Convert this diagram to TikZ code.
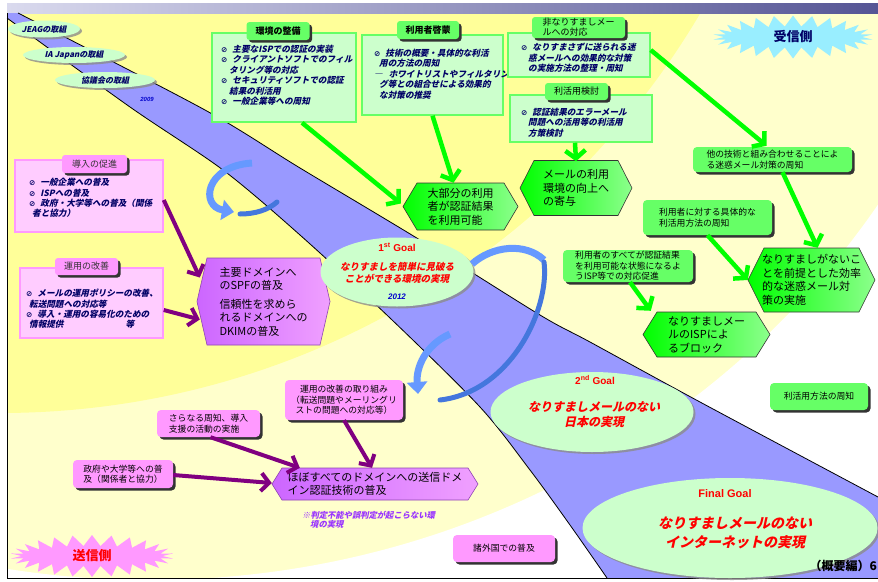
\documentclass[tikz,border=0pt]{standalone}
\usepackage{fontspec}
\newfontfamily\jp{Noto Sans CJK JP}
\newfontfamily\jpi{Noto Sans CJK JP}[FakeSlant=0.22]
\newfontfamily\dv{DejaVu Sans}
\newfontfamily\lib{Liberation Sans}
\usetikzlibrary{shapes.symbols,shapes.geometric,shadows,arrows.meta,calc}
\definecolor{navy}{HTML}{000066}
\definecolor{lgreen}{HTML}{CCFFCC}
\definecolor{mgreen}{HTML}{66FF66}
\definecolor{bgreen}{HTML}{00FF00}
\definecolor{lpink}{HTML}{FFCCFF}
\definecolor{mpink}{HTML}{FF99FF}
\definecolor{purp}{HTML}{800080}
\definecolor{viol}{HTML}{CC66FF}
\definecolor{violl}{HTML}{F0A0FF}
\definecolor{bandc}{HTML}{9999FF}
\definecolor{yel}{HTML}{FFFF99}
\definecolor{pale}{HTML}{FFFFCC}
\definecolor{ablue}{HTML}{6699FF}
\definecolor{dblue}{HTML}{4477DD}
\definecolor{barL}{HTML}{DADAEE}
\definecolor{barR}{HTML}{555595}
\definecolor{cyanst}{HTML}{99EEFF}
\definecolor{notec}{HTML}{9933FF}
\newcommand\bulmark{{\dv\bfseries\fontsize{7.5}{8}\selectfont ⊘}\hspace{5pt}}
\newcommand\hexag[8]{%
  \path[#7] (#2-#4/2,#3) -- (#2-#4/2+#6,#3-#5/2) -- (#2+#4/2-#6,#3-#5/2) -- (#2+#4/2,#3) -- (#2+#4/2-#6,#3+#5/2) -- (#2-#4/2+#6,#3+#5/2) -- cycle;
  \node[minimum width=#4pt, minimum height=#5pt, inner sep=0pt, align=left, font=\jp\fontsize{11}{13.5}\selectfont] (#1) at (#2,#3) {#8};
}
\begin{document}
\begin{tikzpicture}[x=1pt,y=-1pt,
  shad/.style={drop shadow={shadow xshift=2.5pt,shadow yshift=-2.5pt,fill=black!80,opacity=1}},
  gbox/.style={draw=mgreen, line width=1.5pt, fill=lgreen, inner sep=0pt},
  pbox/.style={draw=mpink, line width=1.5pt, fill=lpink, inner sep=0pt},
  gtab/.style={fill=mgreen, rounded corners=3pt, shad, inner sep=0pt, font=\jp\bfseries\fontsize{9}{10}\selectfont},
  ptab/.style={fill=mpink, rounded corners=3pt, shad, inner sep=0pt, font=\jp\fontsize{9}{10}\selectfont, text=black!80},
  gsolid/.style={fill=mgreen, rounded corners=4pt, shad, inner sep=0pt, align=left, font=\jp\fontsize{8.8}{10.5}\selectfont},
  psolid/.style={fill=mpink, rounded corners=4pt, shad, inner sep=0pt, align=left, font=\jp\fontsize{8.8}{10.5}\selectfont},
  btext/.style={font=\jpi\bfseries\fontsize{8.6}{10.4}\selectfont, text=navy, align=left, anchor=north west, inner sep=0pt},
  gell/.style={ellipse, fill=lgreen, drop shadow={shadow xshift=2pt,shadow yshift=-2pt,fill=black!45,opacity=.8}, inner sep=0pt},
  hexg/.style={draw=black!80, line width=0.6pt, left color=bgreen, right color=bgreen!45!white},
  hexp/.style={draw=viol!70!black, line width=0.6pt, left color=viol, right color=violl},
  garrow/.style={draw=bgreen, line width=4.5pt, -{Straight Barb[length=8pt,width=20pt]}},
  parrow/.style={draw=purp, line width=4pt, -{Straight Barb[length=8pt,width=18pt]}},
  barrow/.style={draw=ablue, line width=7pt, -{Triangle[length=12pt,width=20pt]}},
  bcres/.style={draw=dblue, line width=5pt, line cap=round},
  redt/.style={text=red, font=\jpi\bfseries\fontsize{9.5}{11.5}\selectfont, align=center, inner sep=0pt}
]
\useasboundingbox (0,0) rectangle (878,581);
% ---------- background
\fill[white] (0,0) rectangle (878,581);
\begin{scope}
  \clip (7,13) rectangle (878,578);
  \fill[pale] (7,13) rectangle (878,578);
  \fill[yel] (0,-400) circle[radius=813pt];
  \fill[white, even odd rule] (0,0) rectangle (878,581) (150,-250) ellipse[x radius=870pt, y radius=830pt];
\end{scope}
\shade[left color=barL, right color=barR] (7,3) rectangle (878,13);
% ---------- band
\fill[bandc] (7,13) -- plot[smooth] coordinates {(18,13) (205,110) (300,168) (420,240) (540,315) (590,342) (700,402) (878,497)} -- (878,578) -- plot[smooth] coordinates {(607,578) (570,525) (530,470) (480,407) (390,318) (300,235) (223,170) (130,107) (7,18)} -- cycle;
\draw[line width=0.8pt] plot[smooth] coordinates {(18,13) (205,110) (300,168) (420,240) (540,315) (590,342) (700,402) (878,497)};
\draw[line width=0.8pt] plot[smooth] coordinates {(607,578) (570,525) (530,470) (480,407) (390,318) (300,235) (223,170) (130,107) (7,18)};
\draw[line width=1pt] (7,13) -- (7,578) -- (878,578);
% ---------- top-left ellipses
\node[gell, minimum width=72pt, minimum height=17pt] (jeag) at (44,29) {\jpi\bfseries\fontsize{8}{9}\selectfont\color{navy}JEAGの取組};
\node[gell, minimum width=102pt, minimum height=16pt] (iaj) at (74,55) {\jpi\bfseries\fontsize{8}{9}\selectfont\color{navy}IA Japanの取組};
\node[gell, minimum width=100pt, minimum height=16pt] (kyo) at (105,80) {\jpi\bfseries\fontsize{8}{9}\selectfont\color{navy}協議会の取組};
\node[inner sep=0pt, text=blue!80!black, font=\lib\bfseries\itshape\fontsize{6}{7}\selectfont] (y2009) at (147,99) {2009};
% ---------- green boxes with tabs
\node[gbox, minimum width=144pt, minimum height=89pt] (env) at (284,77.5) {};
\node[gtab, minimum width=63pt, minimum height=18pt] (envt) at (278,31) {環境の整備};
\node[btext] (envc) at (221,45) {\bulmark 主要なISPでの認証の実装\\
\bulmark クライアントソフトでのフィル\\
\hspace*{8pt}タリング等の対応\\
\bulmark セキュリティソフトでの認証\\
\hspace*{8pt}結果の利活用\\
\bulmark 一般企業等への周知};
\node[gbox, minimum width=141pt, minimum height=80pt] (usr) at (432.5,75) {};
\node[gtab, minimum width=62pt, minimum height=18pt] (usrt) at (428,30) {利用者啓蒙};
\node[btext] (usrc) at (374,49) {\bulmark 技術の概要・具体的な利活\\
\hspace*{5pt}用の方法の周知\\
―\hspace{6pt}ホワイトリストやフィルタリン\\
\hspace*{5pt}グ等との組合せによる効果的\\
\hspace*{5pt}な対策の推奨};
\node[gbox, minimum width=142pt, minimum height=44pt] (non) at (579,55) {};
\node[gtab, minimum width=93pt, minimum height=21pt, align=left, font=\jp\fontsize{9}{10}\selectfont] (nont) at (578.5,27.5) {非なりすましメー\\ルへの対応};
\node[btext] (nonc) at (521,43) {\bulmark なりすまさずに送られる迷\\
\hspace*{7pt}惑メールへの効果的な対策\\
\hspace*{7pt}の実施方法の整理・周知};
\node[gbox, minimum width=142pt, minimum height=47pt] (rik) at (581,118.5) {};
\node[gtab, minimum width=63pt, minimum height=17pt, font=\jp\fontsize{9}{10}\selectfont] (rikt) at (576.5,91.5) {利活用検討};
\node[btext] (rikc) at (521,108) {\bulmark 認証結果のエラーメール\\
\hspace*{7pt}問題への活用等の利活用\\
\hspace*{7pt}方策検討};
% ---------- pink boxes with tabs
\node[pbox, minimum width=148pt, minimum height=72pt] (intro) at (89,196) {};
\node[ptab, minimum width=65pt, minimum height=18pt] (introt) at (94.5,164) {導入の促進};
\node[btext] (introc) at (29,178) {\bulmark 一般企業への普及\\
\bulmark ISPへの普及\\
\bulmark 政府・大学等への普及（関係\\
\hspace*{3pt}者と協力）};
\node[pbox, minimum width=143pt, minimum height=70pt] (imp) at (91.5,303) {};
\node[ptab, minimum width=63pt, minimum height=17pt] (impt) at (86.5,266.5) {運用の改善};
\node[btext] (impc) at (26,289) {\bulmark メールの運用ポリシーの改善、\\
\hspace*{3pt}転送問題への対応等\\
\bulmark 導入・運用の容易化のための\\
\hspace*{3pt}情報提供\hspace*{62pt}等};
% ---------- starbursts
\node[starburst, starburst points=26, starburst point height=11pt, random starburst=0, fill=cyanst, minimum width=160pt, minimum height=43pt, inner sep=0pt, font=\jp\bfseries\fontsize{13}{14}\selectfont, text=navy] (recv) at (793,37) {受信側};
\node[starburst, starburst points=26, starburst point height=11pt, random starburst=0, fill=mpink, minimum width=163pt, minimum height=42pt, inner sep=0pt, font=\jp\bfseries\fontsize{13}{14}\selectfont, text=red] (send) at (92,556) {送信側};
% ---------- solid green boxes
\node[gsolid, minimum width=159pt, minimum height=25pt] (other) at (772.5,159.5) {他の技術と組み合わせることによ\\る迷惑メール対策の周知};
\node[gsolid, minimum width=129pt, minimum height=35pt] (fu) at (707.5,217.5) {利用者に対する具体的な\\利活用方法の周知};
\node[gsolid, minimum width=130pt, minimum height=32pt] (all) at (628,266) {利用者のすべてが認証結果\\を利用可能な状態になるよ\\うISP等での対応促進};
\node[gsolid, minimum width=98pt, minimum height=27pt] (rkh) at (819,396.5) {利活用方法の周知};
% ---------- solid pink boxes
\node[psolid, minimum width=118pt, minimum height=40pt, align=center] (tori) at (344,400) {運用の改善の取り組み\\（転送問題やメーリングリ\\ストの問題への対応等）};
\node[psolid, minimum width=103pt, minimum height=27pt] (sar) at (208.5,423.5) {さらなる周知、導入\\支援の活動の実施};
\node[psolid, minimum width=100pt, minimum height=28pt] (gov) at (123,474) {政府や大学等への普\\及（関係者と協力）};
\node[psolid, minimum width=102pt, minimum height=27pt] (abroad) at (504,548.5) {諸外国での普及};
% ---------- hexagons
\hexag{big}{460.5}{206.5}{115}{47}{14}{hexg}{大部分の利用\\者が認証結果\\を利用可能}
\hexag{mail}{576}{188}{112}{55}{14}{hexg}{メールの利用\\環境の向上へ\\の寄与}
\hexag{effic}{811.5}{280}{127}{64}{16}{hexg}{なりすましがないこ\\とを前提とした効率\\的な迷惑メール対\\策の実施}
\hexag{isp}{706.5}{334.5}{127}{45}{14}{hexg}{なりすましメー\\ルのISPによ\\るブロック}
\hexag{main}{263.5}{301.5}{133}{87}{10}{hexp}{主要ドメインへ\\のSPFの普及\\[5pt]信頼性を求めら\\れるドメインへの\\DKIMの普及}
\hexag{hobo}{375}{484}{206}{32}{10}{hexp}{ほぼすべてのドメインへの送信ドメ\\イン認証技術の普及}
% ---------- goals
\node[gell, minimum width=153pt, minimum height=69pt] (g1) at (397,272) {};
\node[text=red, font=\lib\bfseries\fontsize{10}{11}\selectfont, inner sep=0pt] (g1t) at (397,247) {1\textsuperscript{st} Goal};
\node[redt] (g1x) at (397,273) {なりすましを簡単に見破る\\ことができる環境の実現};
\node[text=blue!80!black, font=\lib\bfseries\itshape\fontsize{8}{9}\selectfont, inner sep=0pt] (y2012) at (397,297) {2012};
\node[gell, minimum width=203pt, minimum height=80pt] (g2) at (592,412) {};
\node[text=red, font=\lib\bfseries\fontsize{10}{11}\selectfont, inner sep=0pt] (g2t) at (595,380) {2\textsuperscript{nd} Goal};
\node[redt, font=\jpi\bfseries\fontsize{12}{15}\selectfont] (g2x) at (594,415) {なりすましメールのない\\日本の実現};
\node[gell, minimum width=295pt, minimum height=100pt] (g3) at (730,528) {};
\node[text=red, font=\lib\bfseries\fontsize{11}{12}\selectfont, inner sep=0pt] (g3t) at (725,494) {Final Goal};
\node[redt, font=\jpi\bfseries\fontsize{14}{19}\selectfont] (g3x) at (735,533) {なりすましメールのない\\インターネットの実現};
% ---------- notes
\node[text=notec, font=\jpi\bfseries\fontsize{8.3}{9}\selectfont, align=left, anchor=north west, inner sep=0pt] (note) at (302,511) {※判定不能や誤判定が起こらない環\\\hspace*{8pt}境の実現};
\node[font=\jp\bfseries\fontsize{12}{13}\selectfont, anchor=east, inner sep=0pt] (pg) at (877,566) {（概要編）6};
% ---------- blue cyclic arrows
\draw[bcres] (240,214) .. controls (255,214) and (268,210) .. (277,202);
\draw[barrow] (252,163) .. controls (205,166) and (200,206) .. (234,212);
\draw[draw=ablue, line width=7pt] (472,264) .. controls (492,246) and (525,242) .. (544,260);
\draw[bcres] (544,262) .. controls (550,310) and (510,392) .. (440,400);
\draw[barrow] (450,334) .. controls (425,345) and (416,368) .. (418,394);
% ---------- green arrows
\draw[garrow] ($(env.south)+(18,0)$) -- ($(big.west)+(-2,-3)$);
\draw[garrow] (usr.south) -- ($(big.north)+(-7,0)$);
\draw[garrow] ($(rik.south)+(-6,0)$) -- ($(mail.north)+(0,1)$);
\draw[garrow] ($(non.east)+(0,-5)$) -- ($(other.north)+(-6,-1)$);
\draw[garrow] ($(other.south)+(10,0)$) -- ($(effic.north)+(6,0)$);
\draw[garrow] (fu.south) -- (effic.west);
\draw[garrow] ($(all.south)+(2,0)$) -- ($(isp.north west)+(8,-1)$);
% ---------- purple arrows
\draw[parrow] ($(intro.east)+(0,4)$) -- ($(main.west)+(3,-24)$);
\draw[parrow] ($(imp.east)+(0,7)$) -- ($(main.west)+(3,18)$);
\draw[parrow] (tori.south) -- ($(hobo.north)+(-3,0)$);
\draw[parrow] ($(sar.south)+(2,0)$) -- ($(hobo.north west)+(28,0)$);
\draw[parrow] ($(gov.east)+(0,1)$) -- ($(hobo.west)+(0,-1)$);
\end{tikzpicture}
\end{document}
